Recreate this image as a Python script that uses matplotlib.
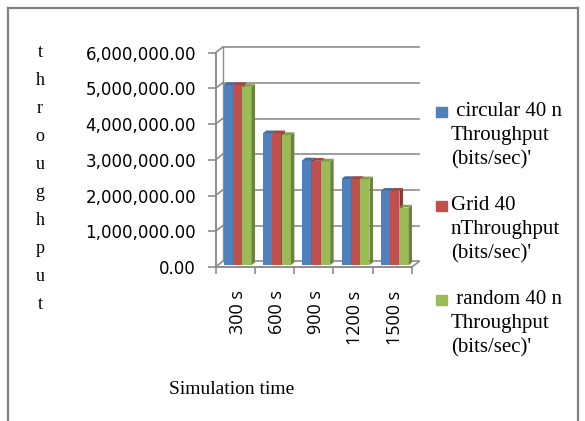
import matplotlib
matplotlib.use('Agg')
import matplotlib.pyplot as plt
import numpy as np
from matplotlib.lines import Line2D
from matplotlib.patches import Rectangle

# data
times = ['300 s', '600 s', '900 s', '1200 s', '1500 s']
circular = [5040000, 3690000, 2930000, 2410000, 2080000]
grid = [5040000, 3690000, 2920000, 2410000, 2080000]
random_ = [4990000, 3640000, 2900000, 2400000, 1610000]
y_ticks = [0, 1000000, 2000000, 3000000, 4000000, 5000000, 6000000]

series = [circular, grid, random_]
colors = ['#4F81BD', '#C0504D', '#9BBB59']
labels = [" circular 40 n\nThroughput\n(bits/sec)'",
          "Grid 40\nnThroughput\n(bits/sec)'",
          " random 40 n\nThroughput\n(bits/sec)'"]

def shade(c, f):
    rgb = np.array(matplotlib.colors.to_rgb(c))
    return tuple(rgb * f)

W, H = 585, 421
fig = plt.figure(figsize=(W / 100, H / 100), dpi=100)
ax = fig.add_axes([215.5 / W, 1 - 267 / H, 196.5 / W, (267 - 52.7) / H])
ax.set_xlim(-0.5, 4.5)
ax.set_ylim(0, 6000000)
for s in ax.spines.values():
    s.set_visible(False)

grey = '#8c8c8c'
# 3d wall offset (category units / value units)
dxw = 7 / 39.3
dyw = 5.5 / 35.7 * 1e6

# back wall gridlines + connectors
for v in y_ticks:
    ax.plot([-0.5, -0.5 + dxw], [v, v + dyw], color=grey, lw=1.2, clip_on=False)
    ax.plot([-0.5 + dxw, 4.5 + dxw], [v + dyw, v + dyw], color=grey, lw=1.2, clip_on=False)
ax.plot([-0.5, -0.5], [0, 6000000], color=grey, lw=1.4, clip_on=False)
ax.plot([-0.5 + dxw, -0.5 + dxw], [dyw, 6000000 + dyw], color=grey, lw=1.0, clip_on=False)
ax.plot([-0.5, 4.5], [0, 0], color=grey, lw=1.4, clip_on=False)
ax.plot([4.5, 4.5 + dxw], [0, dyw], color=grey, lw=1.2, clip_on=False)

# bars with a little depth
bw = 0.237
f0, f1 = 0.35, 0.85
x = np.arange(len(times))
for gi in range(len(times)):
    for si, vals in enumerate(series):
        v = vals[gi]
        cx = x[gi] + (si - 1) * bw + f0 * dxw
        y0 = f0 * dyw
        ddx = (f1 - f0) * dxw
        ddy = (f1 - f0) * dyw
        ax.bar(cx, v, bw, bottom=y0, color=colors[si], zorder=3)
        r = cx + bw / 2
        l = cx - bw / 2
        ax.fill([r, r + ddx, r + ddx, r], [y0, y0 + ddy, y0 + v + ddy, y0 + v],
                color=shade(colors[si], 0.7), zorder=3, lw=0)
        ax.fill([l, l + ddx, r + ddx, r], [y0 + v, y0 + v + ddy, y0 + v + ddy, y0 + v],
                color=shade(colors[si], 0.85), zorder=3, lw=0)

ax.set_yticks(y_ticks)
ax.set_yticklabels(['{:,.2f}'.format(v) for v in y_ticks],
                   fontfamily='DejaVu Sans', fontsize=12)
ax.tick_params(axis='y', length=6, width=1.2, color=grey, pad=8)
ax.set_xticks(x + f0 * dxw)
ax.set_xticklabels(times, rotation=90, fontfamily='Open Sans', fontsize=13)
ax.tick_params(axis='x', which='major', length=0, pad=17)
ax.set_xticks(np.arange(-0.5, 5, 1), minor=True)
ax.tick_params(axis='x', which='minor', length=5, width=1.2, color=grey)

# vertical y label
serif = 'Liberation Serif'
for i, ch in enumerate('throughput'):
    fig.text(40 / W, 1 - (50.7 + 28 * i) / H, ch, ha='center', va='center_baseline',
             fontfamily=serif, fontsize=13)
fig.text(232 / W, 1 - 390 / H, 'Simulation time', ha='center', va='center',
         fontfamily=serif, fontsize=14)

# legend
for i, (c, lab) in enumerate(zip(colors, labels)):
    yc = 112.3 + 94 * i
    fig.patches.append(Rectangle(((441 - 5.5) / W, 1 - (yc + 5) / H), 11 / W, 10 / H,
                                 color=c, transform=fig.transFigure))
    fig.text(451 / W, 1 - (yc - 10.5) / H, lab, ha='left', va='top',
             fontfamily=serif, fontsize=15, linespacing=1.37)

# outer frame
fc = '#808080'
fig.lines.append(Line2D([7.5 / W, 7.5 / W], [0, 1 - 7.5 / H], color=fc, lw=1.6,
                        transform=fig.transFigure))
fig.lines.append(Line2D([7.5 / W, 578 / W], [1 - 7.5 / H, 1 - 7.5 / H], color=fc, lw=1.6,
                        transform=fig.transFigure))
fig.lines.append(Line2D([578 / W, 578 / W], [0, 1 - 7.5 / H], color=fc, lw=1.6,
                        transform=fig.transFigure))

plt.savefig('out.png', dpi=100)
